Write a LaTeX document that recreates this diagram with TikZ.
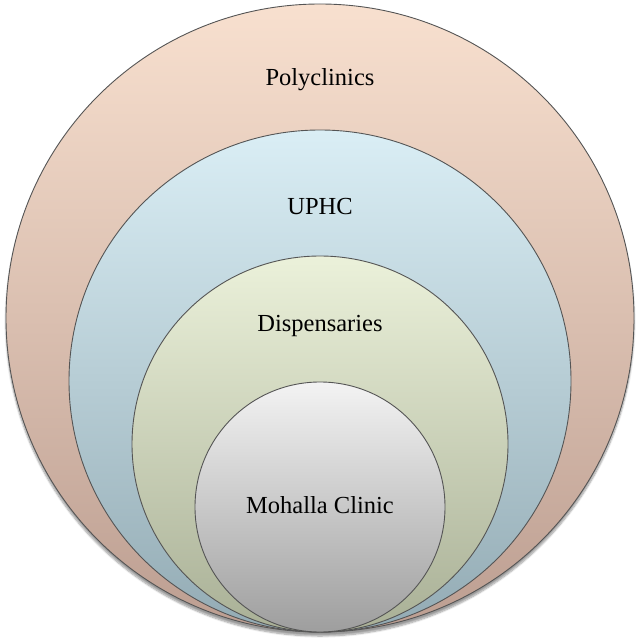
\documentclass[tikz,border=0pt]{standalone}
\usepackage{fontspec}
\setmainfont{Liberation Serif}
\usetikzlibrary{shadows.blur}
\definecolor{pTop}{HTML}{F8E0CF}
\definecolor{pBot}{HTML}{BC9E91}
\definecolor{uTop}{HTML}{DAEEF5}
\definecolor{uBot}{HTML}{93ABB4}
\definecolor{dTop}{HTML}{EBF1DA}
\definecolor{dBot}{HTML}{A9B096}
\definecolor{mTop}{HTML}{F3F3F3}
\definecolor{mBot}{HTML}{9E9E9E}
\definecolor{edge}{HTML}{555555}
\tikzset{
  ring/.style={circle, draw=edge, line width=0.9pt, inner sep=0pt, shading=axis, shading angle=0},
  lbl/.style={font=\fontsize{24.5}{28}\selectfont, text=black}
}
\begin{document}
\begin{tikzpicture}[x=1pt,y=-1pt]
\useasboundingbox (0,0) rectangle (643,644);
\node[ring, minimum size=628pt, top color=pTop, bottom color=pBot,
  blur shadow={shadow xshift=0pt, shadow yshift=-4pt, shadow blur steps=8, shadow opacity=40}] (poly) at (320,318) {};
\node[ring, minimum size=502pt, top color=uTop, bottom color=uBot] (uphc) at (320,381) {};
\node[ring, minimum size=376pt, top color=dTop, bottom color=dBot] (disp) at (320,444) {};
\node[ring, minimum size=250pt, top color=mTop, bottom color=mBot] (moh) at (320,507) {};
\node[lbl] (tp) at (320,80) {Polyclinics};
\node[lbl] (tu) at (320,207) {UPHC};
\node[lbl] (td) at (320,326) {Dispensaries};
\node[lbl] (tm) at (320,505) {Mohalla Clinic};
\end{tikzpicture}
\end{document}
